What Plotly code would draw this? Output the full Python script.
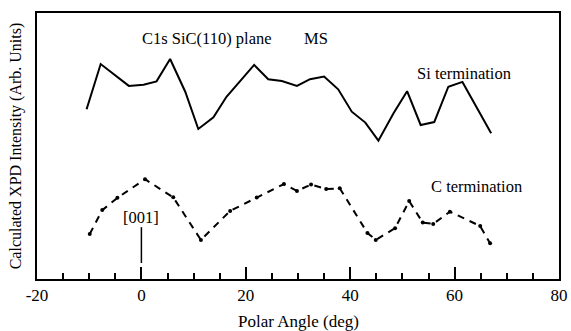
import plotly.graph_objects as go

# Si termination curve
si_x = [-10.5, -7.8, -2.4, 0.4, 2.9, 5.5, 8.4, 10.9, 13.8, 16.3, 21.6, 24.3, 26.9,
        29.8, 32.3, 35.0, 37.7, 40.3, 42.9, 45.4, 48.3, 50.9, 53.5, 56.1, 58.8, 61.5, 67.0]
si_y = [63.8, 80.8, 72.6, 73.0, 74.3, 82.7, 70.4, 56.4, 60.8, 68.5, 80.5, 75.1, 74.4,
        72.6, 75.1, 76.1, 71.3, 62.9, 58.8, 52.0, 62.3, 70.6, 57.9, 59.0, 72.3, 74.1, 54.8]

# C termination curve
c_x = [-9.9, -7.5, -4.6, 0.7, 6.1, 11.4, 17.0, 22.1, 27.3, 29.8, 32.5, 35.4, 38.0,
       43.3, 44.9, 48.6, 51.3, 53.9, 55.9, 59.1, 64.9, 66.8]
c_y = [16.9, 25.9, 30.5, 37.5, 30.7, 14.7, 25.6, 30.6, 35.7, 33.1, 35.5, 33.8, 34.1,
       17.3, 14.7, 19.1, 29.3, 21.2, 20.7, 25.3, 19.9, 13.4]

# [001] direction marker
dir_x = [0, 0]
dir_y = [19.5, 6.0]

x_ticks = [-20, 0, 20, 40, 60, 80]

FONT = "Liberation Serif, Times New Roman, serif"

fig = go.Figure()
fig.add_trace(go.Scatter(x=si_x, y=si_y, mode="lines",
                         line=dict(color="black", width=2), showlegend=False))
fig.add_trace(go.Scatter(x=c_x, y=c_y, mode="lines+markers",
                         line=dict(color="black", width=2, dash="7px,6px"),
                         marker=dict(color="black", size=4), showlegend=False))
fig.add_trace(go.Scatter(x=dir_x, y=dir_y, mode="lines",
                         line=dict(color="black", width=1.5), showlegend=False))

annos = [
    ("C1s SiC(110) plane", 12.6, 90.3),
    ("MS", 33.5, 90.3),
    ("Si termination", 61.8, 77.3),
    ("C termination", 64.1, 34.7),
    ("[001]", 0, 23.0),
]
for text, ax, ay in annos:
    fig.add_annotation(x=ax, y=ay, text=text, showarrow=False,
                       font=dict(family=FONT, size=16.5, color="black"))

# x-axis title placed as paper annotation
fig.add_annotation(x=0.5, y=-0.158, xref="paper", yref="paper", text="Polar Angle (deg)",
                   showarrow=False, yanchor="middle",
                   font=dict(family=FONT, size=17, color="black"))

fig.update_layout(
    width=571, height=331,
    margin=dict(l=37, r=12, t=13, b=52),
    paper_bgcolor="white", plot_bgcolor="white",
    font=dict(family=FONT, size=16, color="black"),
)
fig.update_xaxes(range=[-20, 80], tickvals=x_ticks, ticktext=[str(v) for v in x_ticks],
                 ticks="inside", ticklen=12, tickwidth=1.5, tickcolor="black",
                 minor=dict(dtick=5, ticks="inside", ticklen=6, tickwidth=1.5, tickcolor="black"),
                 showline=True, linecolor="black", linewidth=2, mirror=True,
                 showgrid=False, zeroline=False, automargin=False,
                 tickfont=dict(family=FONT, size=17))
fig.update_yaxes(range=[0, 100], showticklabels=False, ticks="",
                 showline=True, linecolor="black", linewidth=2, mirror=True,
                 showgrid=False, zeroline=False, automargin=False,
                 title=dict(text="Calculated XPD Intensity (Arb. Units)",
                            font=dict(family=FONT, size=16), standoff=9))

fig.write_html("out.html")
